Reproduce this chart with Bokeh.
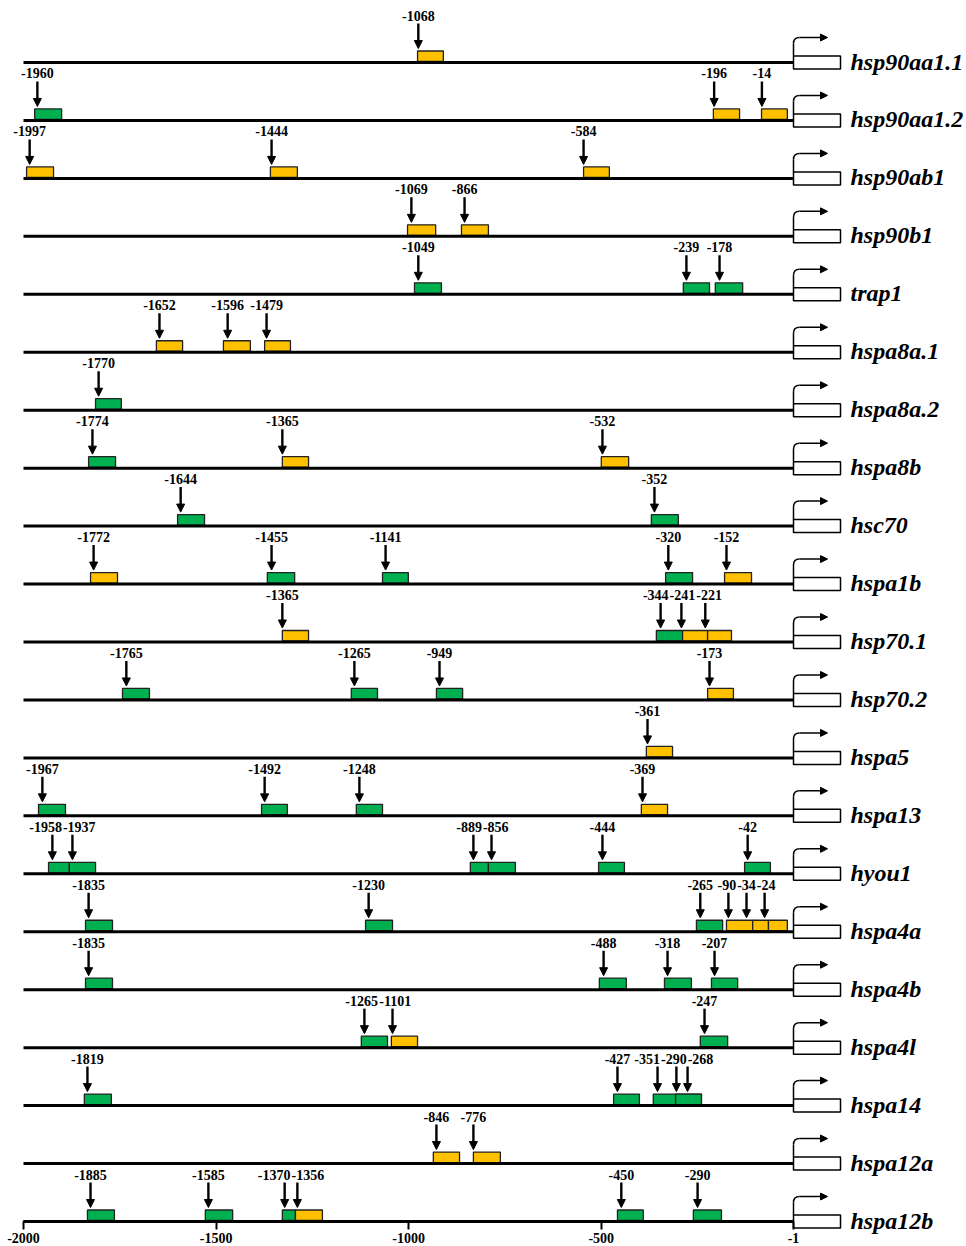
from bokeh.plotting import figure
from bokeh.models import (Range1d, ColumnDataSource, Arrow, NormalHead,
                          FixedTicker, LinearAxis)
from bokeh.embed import file_html
from bokeh.resources import INLINE
from bokeh.core.properties import value

# ---------------- data ----------------
genes = ["hsp90aa1.1", "hsp90aa1.2", "hsp90ab1", "hsp90b1", "trap1",
         "hspa8a.1", "hspa8a.2", "hspa8b", "hsc70", "hspa1b", "hsp70.1",
         "hsp70.2", "hspa5", "hspa13", "hyou1", "hspa4a", "hspa4b",
         "hspa4l", "hspa14", "hspa12a", "hspa12b"]

# one entry per binding site: row (gene index), label, kind (G green / Y yellow),
# arrow position (bp), box start (bp), box end (bp) -- as drawn in the picture
site_row = [0,
            1, 1, 1,
            2, 2, 2,
            3, 3,
            4, 4, 4,
            5, 5, 5,
            6,
            7, 7, 7,
            8, 8,
            9, 9, 9, 9, 9,
            10, 10, 10, 10,
            11, 11, 11, 11,
            12,
            13, 13, 13, 13,
            14, 14, 14, 14, 14, 14,
            15, 15, 15, 15, 15, 15,
            16, 16, 16, 16,
            17, 17, 17,
            18, 18, 18, 18, 18,
            19, 19,
            20, 20, 20, 20, 20, 20]
site_label = ["-1068",
              "-1960", "-196", "-14",
              "-1997", "-1444", "-584",
              "-1069", "-866",
              "-1049", "-239", "-178",
              "-1652", "-1596", "-1479",
              "-1770",
              "-1774", "-1365", "-532",
              "-1644", "-352",
              "-1772", "-1455", "-1141", "-320", "-152",
              "-1365", "-344", "-241", "-221",
              "-1765", "-1265", "-949", "-173",
              "-361",
              "-1967", "-1492", "-1248", "-369",
              "-1958", "-1937", "-889", "-856", "-444", "-42",
              "-1835", "-1230", "-265", "-90", "-34", "-24",
              "-1835", "-488", "-318", "-207",
              "-1265", "-1101", "-247",
              "-1819", "-427", "-351", "-290", "-268",
              "-846", "-776",
              "-1885", "-1585", "-1370", "-1356", "-450", "-290"]
site_kind = ["Y",
             "G", "Y", "Y",
             "Y", "Y", "Y",
             "Y", "Y",
             "G", "G", "G",
             "Y", "Y", "Y",
             "G",
             "G", "Y", "Y",
             "G", "G",
             "Y", "G", "G", "G", "Y",
             "Y", "G", "Y", "Y",
             "G", "G", "G", "Y",
             "Y",
             "G", "G", "G", "Y",
             "G", "G", "G", "G", "G", "G",
             "G", "G", "G", "Y", "Y", "Y",
             "G", "G", "G", "G",
             "G", "Y", "G",
             "G", "G", "G", "G", "G",
             "Y", "Y",
             "G", "G", "G", "Y", "G", "G"]
site_pos = [-975,
            -1964, -207, -83,
            -1984, -1356, -546,
            -993, -855,
            -975, -279, -193,
            -1647, -1470, -1369,
            -1805,
            -1821, -1328, -497,
            -1592, -362,
            -1818, -1356, -1060, -326, -175,
            -1328, -346, -292, -230,
            -1733, -1141, -920, -219,
            -380,
            -1951, -1374, -1128, -393,
            -1925, -1873, -832, -785, -497, -120,
            -1831, -1104, -243, -170, -123, -76,
            -1831, -494, -328, -206,
            -1115, -1042, -232,
            -1834, -458, -354, -305, -276,
            -928, -832,
            -1826, -1520, -1322, -1289, -448, -250]
box_start = [-977,
             -1971, -209, -84,
             -1992, -1359, -546,
             -1003, -863,
             -985, -287, -204,
             -1655, -1481, -1374,
             -1813,
             -1831, -1328, -500,
             -1600, -370,
             -1826, -1367, -1068, -333, -180,
             -1328, -357, -289, -224,
             -1743, -1149, -928, -224,
             -383,
             -1961, -1382, -1136, -396,
             -1935, -1881, -840, -793, -507, -128,
             -1839, -1112, -253, -175, -107, -66,
             -1839, -505, -336, -214,
             -1123, -1045, -243,
             -1842, -468, -365, -307, -307,
             -936, -832,
             -1834, -1528, -1328, -1294, -458, -261]
box_end = [-910,
           -1901, -141, -17,
           -1922, -1289, -479,
           -930, -793,
           -915, -219, -133,
           -1587, -1411, -1307,
           -1746,
           -1761, -1260, -429,
           -1530, -300,
           -1756, -1296, -1001, -263, -110,
           -1260, -289, -224, -162,
           -1673, -1081, -860, -157,
           -315,
           -1891, -1315, -1068, -328,
           -1881, -1813, -793, -723, -440, -61,
           -1769, -1042, -185, -107, -66, -17,
           -1769, -435, -266, -146,
           -1055, -977, -172,
           -1772, -401, -307, -240, -240,
           -868, -762,
           -1764, -1457, -1294, -1224, -391, -188]

tick_values = [-2000, -1500, -1000, -500, -1]
tick_labels = ["-2000", "-1500", "-1000", "-500", "-1"]
promoter_start, promoter_end = -2000, -1

# ---------------- layout ----------------
FW, FH = 964, 1244
XS = 1999 / 770.0            # bp per pixel
LEFT_PX = 23                 # pixel of -2000 inside frame
TOP_PX = 62                  # pixel of first row line below frame top
LAST_PX = 1221               # pixel of last row line
NROW = len(genes)
ROW_PX = (LAST_PX - TOP_PX) / (NROW - 1)

def up(px):                  # pixel offset (upwards) -> data offset in rows
    return -px / ROW_PX

GREEN, YELLOW = "#00B050", "#FFC000"
SERIF = "Liberation Serif"

p = figure(frame_width=FW, frame_height=FH, min_border=0,
           x_range=Range1d(promoter_start - LEFT_PX * XS,
                           promoter_start + (FW - LEFT_PX) * XS),
           y_range=Range1d(NROW - 1 + (FH - LAST_PX) / ROW_PX, -TOP_PX / ROW_PX),
           x_axis_location=None, y_axis_location=None,
           toolbar_location=None, output_backend="svg")
p.grid.visible = False
p.outline_line_color = None
p.background_fill_color = "white"
p.border_fill_color = "white"

rows = list(range(NROW))

# boxes
n = len(site_row)
box_src = ColumnDataSource(dict(
    left=box_start, right=box_end,
    top=[r + up(11.5) for r in site_row],
    bottom=[r + up(1.0) for r in site_row],
    color=[GREEN if k == "G" else YELLOW for k in site_kind]))
p.quad(left="left", right="right", top="top", bottom="bottom",
       fill_color="color", line_color="#222222", line_width=1.3,
       source=box_src)

# promoter lines
p.segment(x0=[promoter_start] * NROW, x1=[promoter_end] * NROW,
          y0=rows, y1=rows, line_color="black", line_width=3)

# arrows pointing at sites
arr_src = ColumnDataSource(dict(
    xs=site_pos, xe=site_pos,
    ys=[r + up(39) for r in site_row],
    ye=[r + up(14) for r in site_row]))
p.add_layout(Arrow(end=NormalHead(size=8, fill_color="black",
                                  line_color="black", line_width=1),
                   x_start="xs", y_start="ys", x_end="xe", y_end="ye",
                   line_width=2.4, line_color="black", source=arr_src))

# site labels, spread apart when they would collide
FS = 14
PAD = 1.0

def wlab(s):
    return sum(0.5 if c.isdigit() else 0.333 for c in s) * FS

def span(g):
    c = sum(site_pos[i] / XS for i in g) / len(g)
    tot = sum(wlab(site_label[i]) for i in g) + PAD * (len(g) - 1)
    return c - tot / 2, c + tot / 2

lab_x = [0.0] * n
for r in rows:
    idx = sorted([i for i in range(n) if site_row[i] == r],
                 key=lambda i: site_pos[i])
    groups = []
    for i in idx:
        groups.append([i])
        while len(groups) > 1:
            a, b = groups[-2], groups[-1]
            if span(a)[1] > span(b)[0] + 0.5:
                groups[-2:] = [a + b]
            else:
                break
    for g in groups:
        cur = span(g)[0]
        for i in g:
            w = wlab(site_label[i])
            lab_x[i] = (cur + w / 2) * XS
            cur += w + PAD

p.text(x=lab_x, y=[r + up(47) for r in site_row], text=site_label,
       text_font=value(SERIF), text_font_style="bold",
       text_font_size=f"{FS}px", text_align="center",
       text_baseline="alphabetic", text_color="black")

# transcription start symbol
p.quad(left=[promoter_end] * NROW,
       right=[promoter_end + 47 * XS] * NROW,
       top=[r + up(6.5) for r in rows], bottom=[r + up(-6.5) for r in rows],
       fill_color="white", line_color="black", line_width=1.5)
p.segment(x0=[promoter_end] * NROW, x1=[promoter_end] * NROW,
          y0=[r + up(6.5) for r in rows], y1=[r + up(19) for r in rows],
          line_color="black", line_width=1.5)
p.bezier(x0=[promoter_end] * NROW, y0=[r + up(19) for r in rows],
         x1=[promoter_end + 6 * XS] * NROW, y1=[r + up(25) for r in rows],
         cx0=[promoter_end] * NROW, cy0=[r + up(23) for r in rows],
         cx1=[promoter_end + 2 * XS] * NROW, cy1=[r + up(25) for r in rows],
         line_color="black", line_width=1.5)
tss_src = ColumnDataSource(dict(
    xs=[promoter_end + 6 * XS] * NROW, xe=[promoter_end + 34 * XS] * NROW,
    y=[r + up(25) for r in rows]))
p.add_layout(Arrow(end=NormalHead(size=7, fill_color="black",
                                  line_color="black", line_width=1),
                   x_start="xs", y_start="y", x_end="xe", y_end="y",
                   line_width=1.5, line_color="black", source=tss_src))

# gene names
p.text(x=[promoter_end + 57 * XS] * NROW, y=[r + up(1) for r in rows],
       text=genes, text_font=value(SERIF), text_font_style="bold italic",
       text_font_size="24px", text_align="left",
       text_baseline="alphabetic", text_color="black")

# bottom axis, drawn on the last promoter line
xaxis = LinearAxis(ticker=FixedTicker(ticks=tick_values),
                   fixed_location=NROW - 1,
                   major_label_overrides={v: s for v, s in zip(tick_values, tick_labels)},
                   bounds=(promoter_start, promoter_end),
                   axis_line_width=3, axis_line_color="black",
                   major_tick_line_width=2, major_tick_in=0, major_tick_out=8,
                   minor_tick_out=0, minor_tick_in=0,
                   major_label_standoff=3,
                   major_label_text_font=SERIF,
                   major_label_text_font_style="bold",
                   major_label_text_font_size="14px",
                   major_label_text_color="black")
p.add_layout(xaxis, "below")

open("out.html", "w").write(file_html(p, INLINE))
